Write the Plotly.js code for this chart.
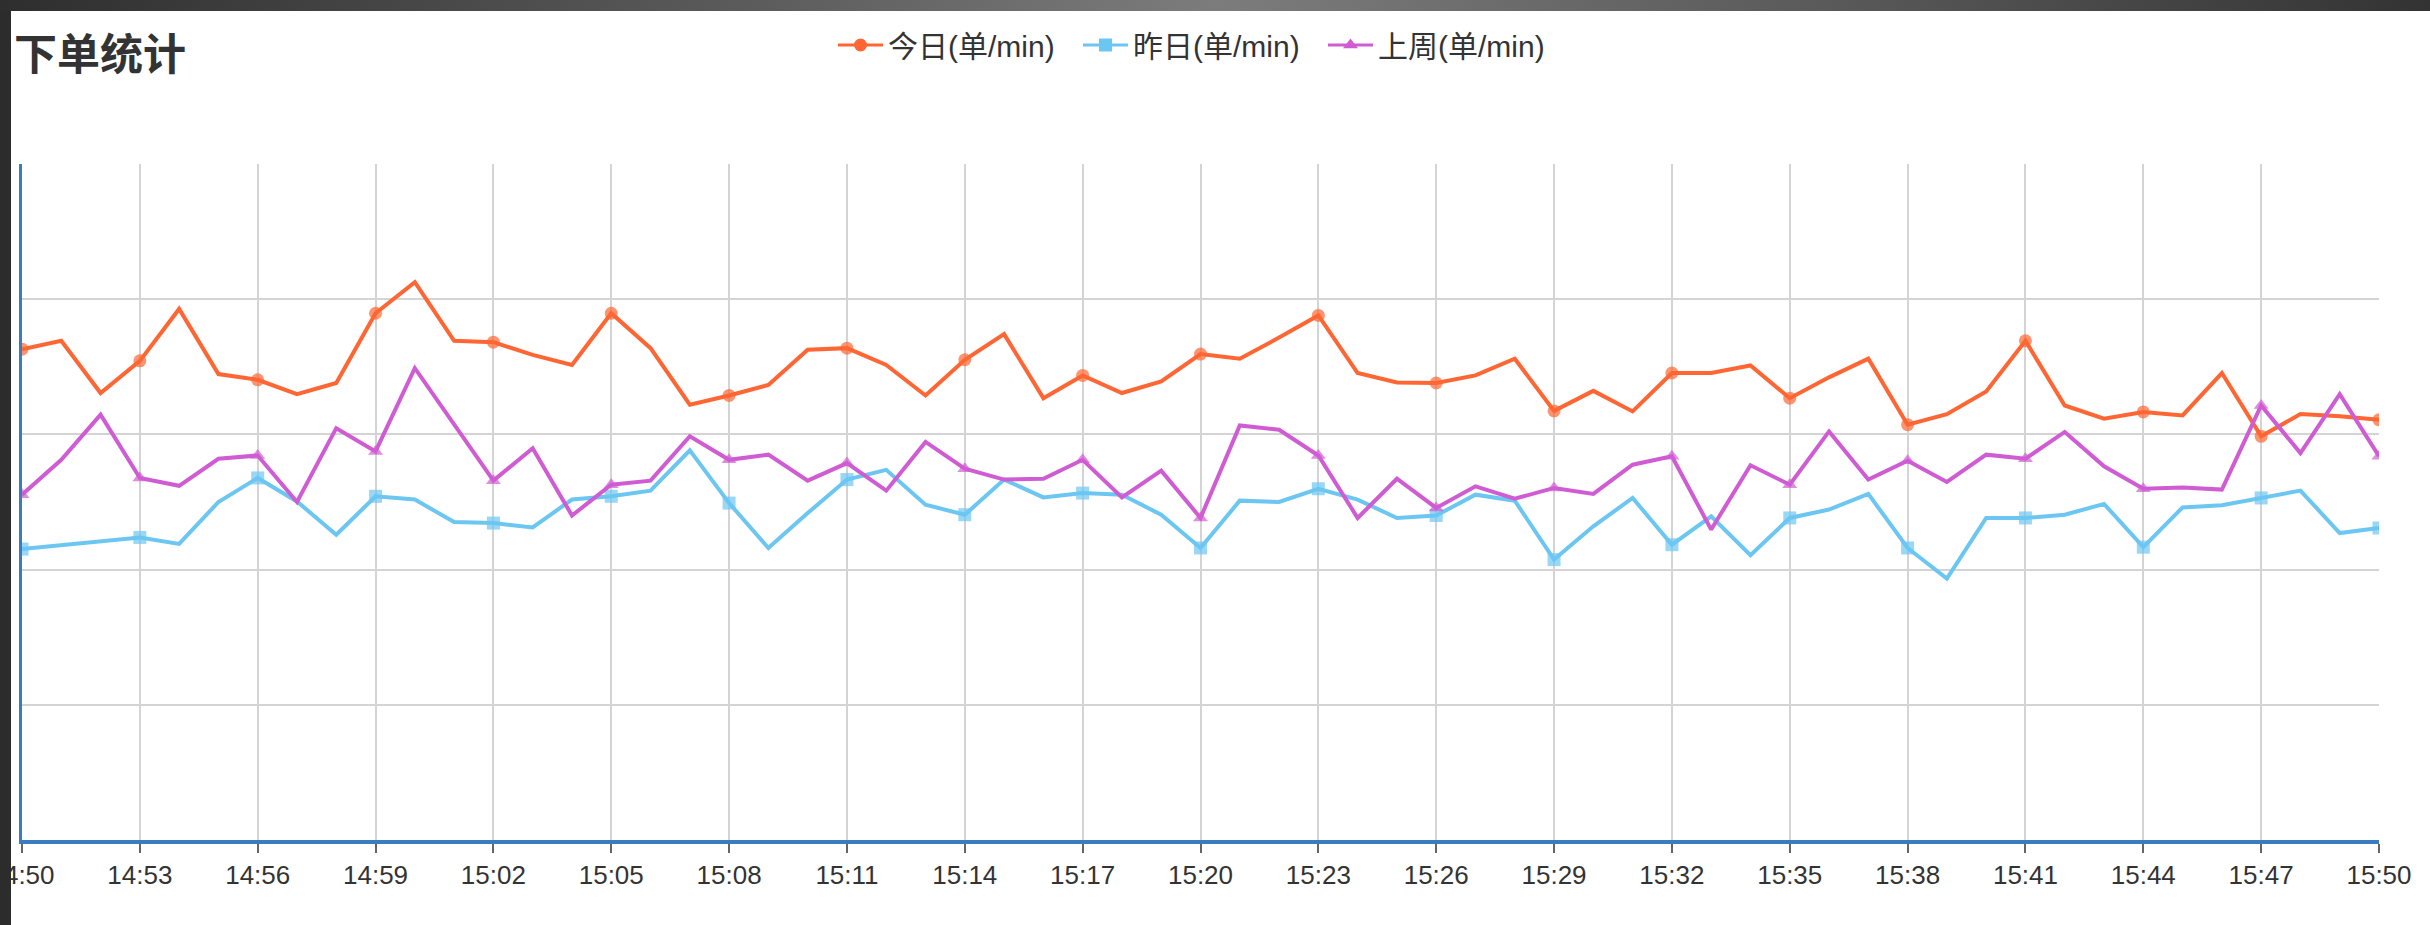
<!DOCTYPE html>
<html>
<head>
<meta charset="utf-8">
<script src="https://cdn.plot.ly/plotly-3.0.1.min.js"></script>
<style>
  html, body { margin: 0; padding: 0; width: 2430px; height: 925px; overflow: hidden; background: #2c2c2c; }
  #topband { position: absolute; left: 0; top: 0; width: 2430px; height: 11px;
    background: linear-gradient(90deg, #2e2e2e 0%, #5a5a5a 30%, #7c7c7c 50%, #5a5a5a 75%, #333 100%); }
  #chart { position: absolute; left: 11px; top: 11px; width: 2419px; height: 914px; background: #fff; }
</style>
</head>
<body>
<div id="topband"></div>
<div id="chart"></div>
<script>
// ---- data ----
const times = [
  "14:50","14:51","14:52","14:53","14:54","14:55","14:56","14:57","14:58","14:59",
  "15:00","15:01","15:02","15:03","15:04","15:05","15:06","15:07","15:08","15:09",
  "15:10","15:11","15:12","15:13","15:14","15:15","15:16","15:17","15:18","15:19",
  "15:20","15:21","15:22","15:23","15:24","15:25","15:26","15:27","15:28","15:29",
  "15:30","15:31","15:32","15:33","15:34","15:35","15:36","15:37","15:38","15:39",
  "15:40","15:41","15:42","15:43","15:44","15:45","15:46","15:47","15:48","15:49",
  "15:50"
];
const tickLabels = ["14:50","14:53","14:56","14:59","15:02","15:05","15:08","15:11","15:14","15:17",
  "15:20","15:23","15:26","15:29","15:32","15:35","15:38","15:41","15:44","15:47","15:50"];

const today = [
  181.5,184.6,165.3,177.2,196.4,172.3,170.2,164.9,169.0,194.8,
  206.3,184.6,184.1,179.4,175.7,194.8,181.9,161.0,164.4,168.3,
  181.3,181.9,175.7,164.4,177.6,187.1,163.4,171.8,165.3,169.6,
  179.7,178.0,185.8,194.0,172.7,169.2,169.0,171.8,178.0,158.7,
  166.1,158.5,172.7,172.7,175.5,163.4,171.1,178.0,153.6,157.5,
  165.9,184.6,160.7,155.8,158.3,157.0,172.7,149.3,157.5,156.7,
  155.4
];
const yesterday = [
  107.6,109.1,110.5,111.9,109.5,125.0,133.9,125.2,112.9,127.1,
  125.9,117.6,117.2,115.6,125.9,127.1,129.2,144.1,124.6,108.0,
  120.9,133.3,136.9,124.0,120.3,133.3,126.7,128.3,127.7,120.3,
  108.0,125.5,125.0,129.9,125.9,119.1,120.0,127.7,125.5,103.7,
  116.0,126.5,109.2,119.7,105.3,119.1,122.2,128.0,108.0,96.7,
  119.1,119.1,120.3,124.3,108.3,123.0,123.8,126.5,129.2,113.5,
  115.4
];
const lastWeek = [
  127.7,140.6,157.3,133.9,131.0,141.0,142.2,125.0,152.3,143.7,
  174.5,153.7,132.9,144.9,120.0,131.4,132.9,149.3,140.6,142.5,
  132.9,139.4,129.2,147.2,137.3,133.3,133.6,140.6,126.7,136.6,
  119.1,153.3,151.7,142.2,119.1,133.6,122.8,130.8,126.2,130.2,
  128.0,138.8,141.9,114.8,138.6,131.4,151.1,133.3,140.3,132.4,
  142.5,141.0,150.9,138.2,129.9,130.4,129.6,160.7,143.1,164.9,
  141.9
];
const seriesNames = ["今日(单/min)", "昨日(单/min)", "上周(单/min)"];

// ---- styles ----
const colors = ["#ff6633", "#6cc6f2", "#d05cd4"];
const symbols = ["circle", "square", "triangle-up"];
const markerSize = 13;
const sizes = times.map(t => tickLabels.includes(t) ? markerSize : 0);

const seriesData = [today, yesterday, lastWeek];
const traces = [];
seriesData.forEach((vals, i) => {
  traces.push({
    type: "scatter", mode: "lines+markers",
    x: times, y: vals, name: seriesNames[i],
    showlegend: false, legendgroup: "g" + i,
    line: { color: colors[i], width: 4 },
    marker: { color: colors[i], symbol: symbols[i], size: sizes, line: { width: 0 } },
    hoverinfo: "x+y+name"
  });
});
seriesData.forEach((vals, i) => {
  traces.push({
    type: "scatter", mode: "lines+markers",
    x: [null], y: [null], name: seriesNames[i],
    showlegend: true, legendgroup: "g" + i,
    line: { color: colors[i], width: 3 },
    marker: { color: colors[i], symbol: symbols[i], size: 13, line: { width: 0 } }
  });
});

const W = 2419, H = 914;
const layout = {
  width: W, height: H,
  paper_bgcolor: "#ffffff", plot_bgcolor: "#ffffff",
  margin: { l: 11, r: 51, t: 153, b: 85, pad: 0 },
  title: {
    text: "下单统计",
    font: { family: "Noto Sans CJK SC, sans-serif", size: 43, color: "#333333", weight: "bold" },
    xref: "container", x: 3 / W, xanchor: "left",
    yref: "container", y: 1 - 44 / H, yanchor: "middle"
  },
  showlegend: true,
  legend: {
    orientation: "h",
    xref: "paper", x: 0.5, xanchor: "center",
    yref: "container", y: 1 - 34 / H, yanchor: "middle",
    font: { family: "Liberation Sans, Noto Sans CJK SC, sans-serif", size: 30, color: "#333333" },
    bgcolor: "rgba(0,0,0,0)", itemwidth: 45, entrywidth: 185, entrywidthmode: "pixels", tracegroupgap: 0
  },
  xaxis: {
    type: "category",
    range: [0, times.length - 1],
    tickmode: "array", tickvals: tickLabels, ticktext: tickLabels,
    showgrid: true, gridcolor: "#d4d4d4", gridwidth: 2,
    showline: true, linecolor: "#3a7cc0", linewidth: 4,
    ticks: "outside", ticklen: 9, tickwidth: 2, tickcolor: "#666666",
    tickfont: { family: "Liberation Sans, Arial, sans-serif", size: 26, color: "#333333" },
    zeroline: false, fixedrange: true
  },
  yaxis: {
    range: [0, 250], dtick: 50, tick0: 0,
    showticklabels: false, ticks: "",
    showgrid: true, gridcolor: "#d4d4d4", gridwidth: 2,
    showline: true, linecolor: "#3a7cc0", linewidth: 3,
    zeroline: false, fixedrange: true
  },
  hovermode: "closest"
};

Plotly.newPlot("chart", traces, layout, { displayModeBar: false, staticPlot: true });
</script>
</body>
</html>
